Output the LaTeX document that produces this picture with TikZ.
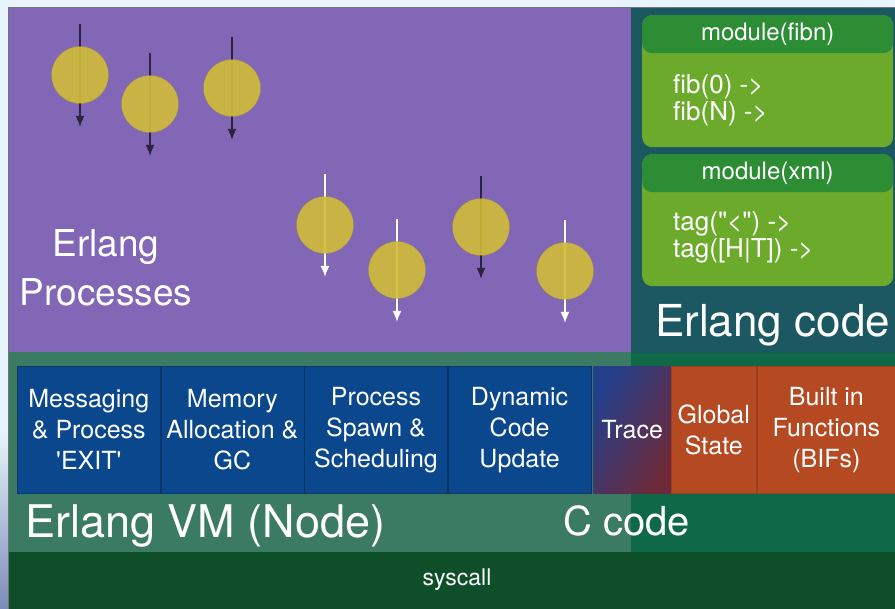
\documentclass[tikz,border=0pt]{standalone}
\usepackage{fontspec}
\setmainfont{TeX Gyre Heros}
\usetikzlibrary{arrows.meta,positioning}

\definecolor{pagebg}{HTML}{E8F4FB}
\definecolor{procbg}{HTML}{8167B5}
\definecolor{codebg}{HTML}{1B5862}
\definecolor{vmbg}{HTML}{3B7A63}
\definecolor{cbg}{HTML}{0F6847}
\definecolor{sysbg}{HTML}{0E4F2A}
\definecolor{vmblue}{HTML}{0B478D}
\definecolor{bifred}{HTML}{B54A22}
\definecolor{tracered}{HTML}{6E2A3A}
\definecolor{traceblue}{HTML}{233F8C}
\definecolor{headgreen}{HTML}{2D8D35}
\definecolor{bodygreen}{HTML}{6BAA2B}
\definecolor{procyel}{HTML}{D0BC38}
\definecolor{arrdark}{HTML}{2B2340}

\tikzset{
  proc/.style={circle, fill=procyel, fill opacity=0.9, draw=procyel!80!black, draw opacity=0.6, minimum size=57pt, inner sep=0pt},
  procarrow/.style={line width=1.7pt, -{Latex[length=11pt,width=9pt]}},
  vmbox/.style={draw=vmblue!75!black, line width=0.6pt, fill=vmblue, text=white, minimum width=143pt, minimum height=127pt, inner sep=0pt, anchor=north west, align=center, font=\fontsize{25}{31}\selectfont},
  bifbox/.style={vmbox, draw=bifred!85!black, fill=bifred},
  bodybox/.style={fill=bodygreen, rounded corners=10pt, minimum width=251pt, minimum height=132pt, anchor=north west, inner sep=0pt},
  headbox/.style={fill=headgreen, rounded corners=10pt, minimum width=251pt, minimum height=38pt, anchor=north, inner sep=0pt, text=white, font=\fontsize{24}{24}\selectfont},
  codetext/.style={anchor=west, align=left, inner sep=0pt, text=white, font=\fontsize{26}{27}\selectfont},
  bigtext/.style={inner sep=0pt, text=white},
}

\begin{document}
\begin{tikzpicture}[x=1pt,y=-1pt]
\useasboundingbox (0,0) rectangle (895,609);
\fill[pagebg] (0,0) rectangle (895,609);
\shade[top color=pagebg, bottom color=traceblue!60] (0,430) rectangle (8,609);

% layers
\fill[procbg] (8,7) rectangle (631,352);
\fill[codebg] (631,7) rectangle (895,353);
\fill[vmbg] (8,352) rectangle (631,552);
\fill[cbg] (631,353) rectangle (895,552);
\fill[sysbg] (8,552) rectangle (895,609);
\draw[black!55, line width=0.6pt] (8,609) -- (8,7) -- (895,7);

% processes
\foreach \n/\x/\y/\ac in {1/80/75/arrdark, 2/150/104/arrdark, 3/232/88/arrdark,
    4/325/225/white, 5/397/270/white, 6/481/227/arrdark, 7/565/271/white}{
  \coordinate (top\n) at (\x,\y-51);
  \coordinate (bot\n) at (\x,\y+52);
  \draw[procarrow, draw=\ac] (top\n) -- (bot\n);
  \node[proc] (p\n) at (\x,\y) {};
}
\node[bigtext, align=center, font=\fontsize{37}{49}\selectfont] (proclabel) at (106,268) {Erlang\\Processes};

% modules
\node[bodybox] (fibn) at (642,15) {};
\node[headbox] (fibnhead) at (fibn.north) {module(fibn)};
\node[codetext] (fibncode) at (673,100) {fib(0) ->\\fib(N) ->};
\node[bodybox] (xml) at (642,154) {};
\node[headbox] (xmlhead) at (xml.north) {module(xml)};
\node[codetext] (xmlcode) at (673,237) {tag(\textquotedbl<\textquotedbl) ->\\tag([H|T]) ->};
\node[bigtext, anchor=base west, font=\fontsize{44}{44}\selectfont] (codelabel) at (655,337) {Erlang code};

% vm
\node[vmbox] (msg) at (17,366) {Messaging\\\& Process\\\textquotesingle EXIT\textquotesingle};
\node[vmbox, right=0pt of msg] (mem) {Memory\\Allocation \&\\GC};
\node[vmbox, right=0pt of mem] (spawn) {Process\\Spawn \&\\Scheduling};
\node[vmbox, right=0pt of spawn] (dyn) {Dynamic\\Code\\Update};
\node[vmbox, minimum width=77pt, draw=none, left color=traceblue, right color=tracered, shading angle=60, right=2pt of dyn] (trace) {Trace};
\node[bifbox, minimum width=85pt, right=0pt of trace] (glob) {Global\\State};
\node[bifbox, minimum width=139pt, right=0pt of glob] (bif) {Built in\\Functions\\(BIFs)};

\node[bigtext, anchor=base west, font=\fontsize{45}{45}\selectfont] (vmlabel) at (25,538) {Erlang VM (Node)};
\node[bigtext, anchor=base west, font=\fontsize{40}{40}\selectfont] (clabel) at (563,536) {C code};
\node[bigtext, font=\fontsize{23}{23}\selectfont] (sys) at (457,580) {syscall};
\end{tikzpicture}
\end{document}
